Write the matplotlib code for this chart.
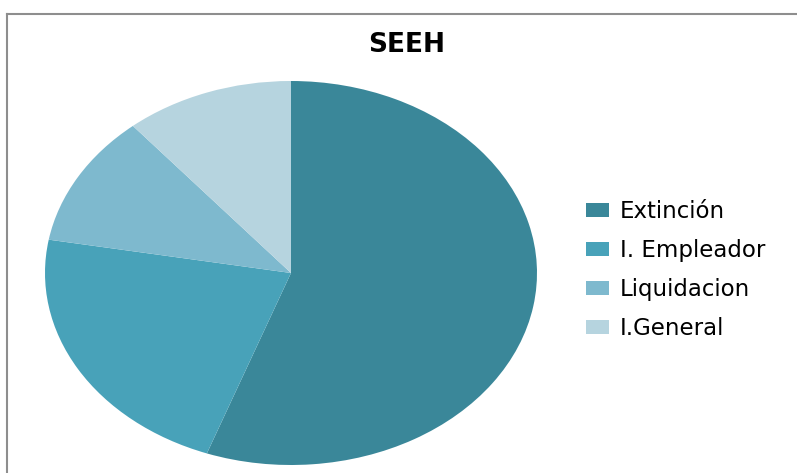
import matplotlib.pyplot as plt
from matplotlib.lines import Line2D

plt.rcParams["font.family"] = "DejaVu Sans"

labels = ["Extinción", "I. Empleador", "Liquidacion", "I.General"]
values = [5, 2, 1, 1]
colors = ["#3A8799", "#48A2B9", "#7EB9CE", "#B6D4DF"]

W, H = 797, 473
fig = plt.figure(figsize=(W / 100, H / 100), dpi=100)

# elliptical pie, stretched like the original
ax = fig.add_axes([45 / W, (H - 465) / H, (537 - 45) / W, (465 - 81) / H])
wedges, _ = ax.pie(values, colors=colors, startangle=90, counterclock=False,
                   wedgeprops={"linewidth": 0})
ax.set_aspect("auto")
ax.set_xlim(-1, 1)
ax.set_ylim(-1, 1)
ax.axis("off")

fig.text(407 / W, 1 - 45 / H, "SEEH", ha="center", va="center",
         fontsize=19, fontweight="bold")

fig.legend(wedges, labels, loc="center left",
           bbox_to_anchor=(565 / W, 1 - 270 / H), frameon=False,
           fontsize=16.5, handlelength=1.0, handleheight=0.6,
           handletextpad=0.5, labelspacing=0.7)

# chart frame (left and top edges visible)
fig.add_artist(Line2D([7.5 / W, 7.5 / W], [0, 1 - 14 / H],
                      transform=fig.transFigure, color="#8E8E8E", lw=1.5))
fig.add_artist(Line2D([7 / W, 1], [1 - 14 / H, 1 - 14 / H],
                      transform=fig.transFigure, color="#8E8E8E", lw=1.5))

fig.savefig("out.png", dpi=100)
